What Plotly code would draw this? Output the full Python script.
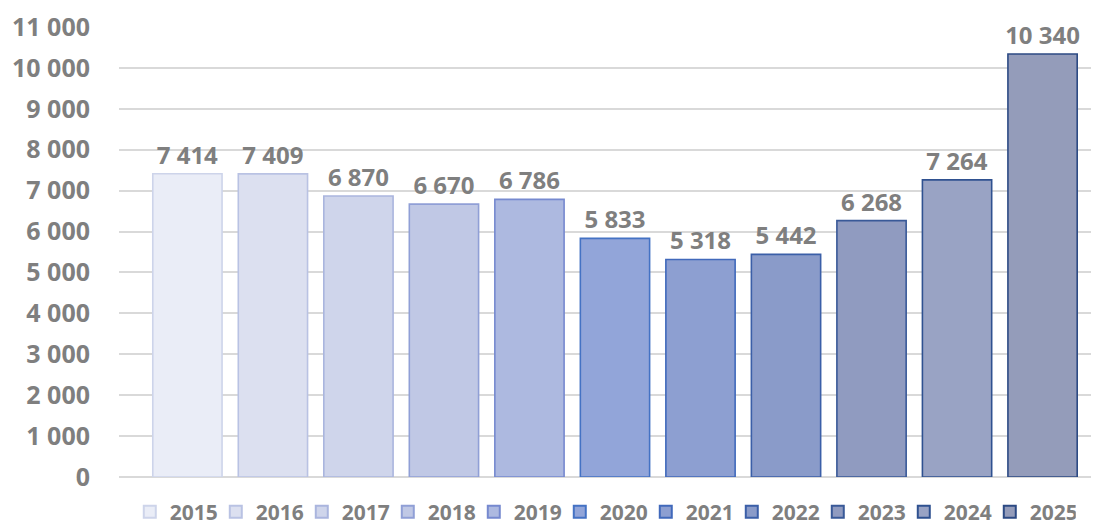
import plotly.graph_objects as go

years = ["2015", "2016", "2017", "2018", "2019", "2020", "2021", "2022", "2023", "2024", "2025"]
values = [7414, 7409, 6870, 6670, 6786, 5833, 5318, 5442, 6268, 7264, 10340]
fill_colors = ["#eaedf7", "#dce0f0", "#cfd5eb", "#c0c8e5", "#adb9e0", "#92a5d9", "#8d9fd1", "#8a9bc9",
               "#909bc0", "#99a3c4", "#949cba"]
line_colors = ["#cdd4ea", "#b9c2e3", "#aab5de", "#909fd6", "#7689cf", "#4472c4", "#4169bb", "#3b5fa8",
               "#395998", "#2f5190", "#2c4a84"]
y_ticks = list(range(0, 11001, 1000))

FONT = "Open Sans"
GRAY = "#7f7f7f"

fig = go.Figure()
for yr, v, fc, lc in zip(years, values, fill_colors, line_colors):
    fig.add_trace(go.Bar(
        x=[yr], y=[v], name=yr, width=0.81,
        marker=dict(color=fc, line=dict(color=lc, width=1.6)),
        texttemplate="%{y:,d}", textposition="outside", cliponaxis=False,
        constraintext="none",
        textfont=dict(family=FONT, size=24, color=GRAY, weight="bold"),
    ))

# page body has an 8px margin, so the figure is offset by (8, 8)
fig.update_layout(
    width=1091, height=520,
    margin=dict(l=111, r=0, t=19, b=51, autoexpand=False),
    paper_bgcolor="white", plot_bgcolor="white",
    barmode="overlay", separators=". ",
    showlegend=True,
    legend=dict(orientation="h", x=0.011, xanchor="left", y=-0.078, yanchor="middle",
                entrywidth=41, entrywidthmode="pixels", itemsizing="constant",
                font=dict(family=FONT, size=21, color=GRAY, weight="bold"),
                traceorder="normal", itemclick=False),
    xaxis=dict(type="category", categoryorder="array", categoryarray=years,
               range=[-0.80, 10.66], showticklabels=False, showgrid=False,
               showline=False, zeroline=False, automargin=False),
    yaxis=dict(range=[0, 11000], tickvals=y_ticks, tickformat=",d",
               showgrid=True, gridcolor="#d9d9d9", gridwidth=1.5,
               zeroline=True, zerolinecolor="#d9d9d9", zerolinewidth=1.5,
               ticks="", ticklabelstandoff=28, automargin=False,
               tickfont=dict(family=FONT, size=25, color=GRAY, weight="bold")),
)

fig.write_html("out.html")
